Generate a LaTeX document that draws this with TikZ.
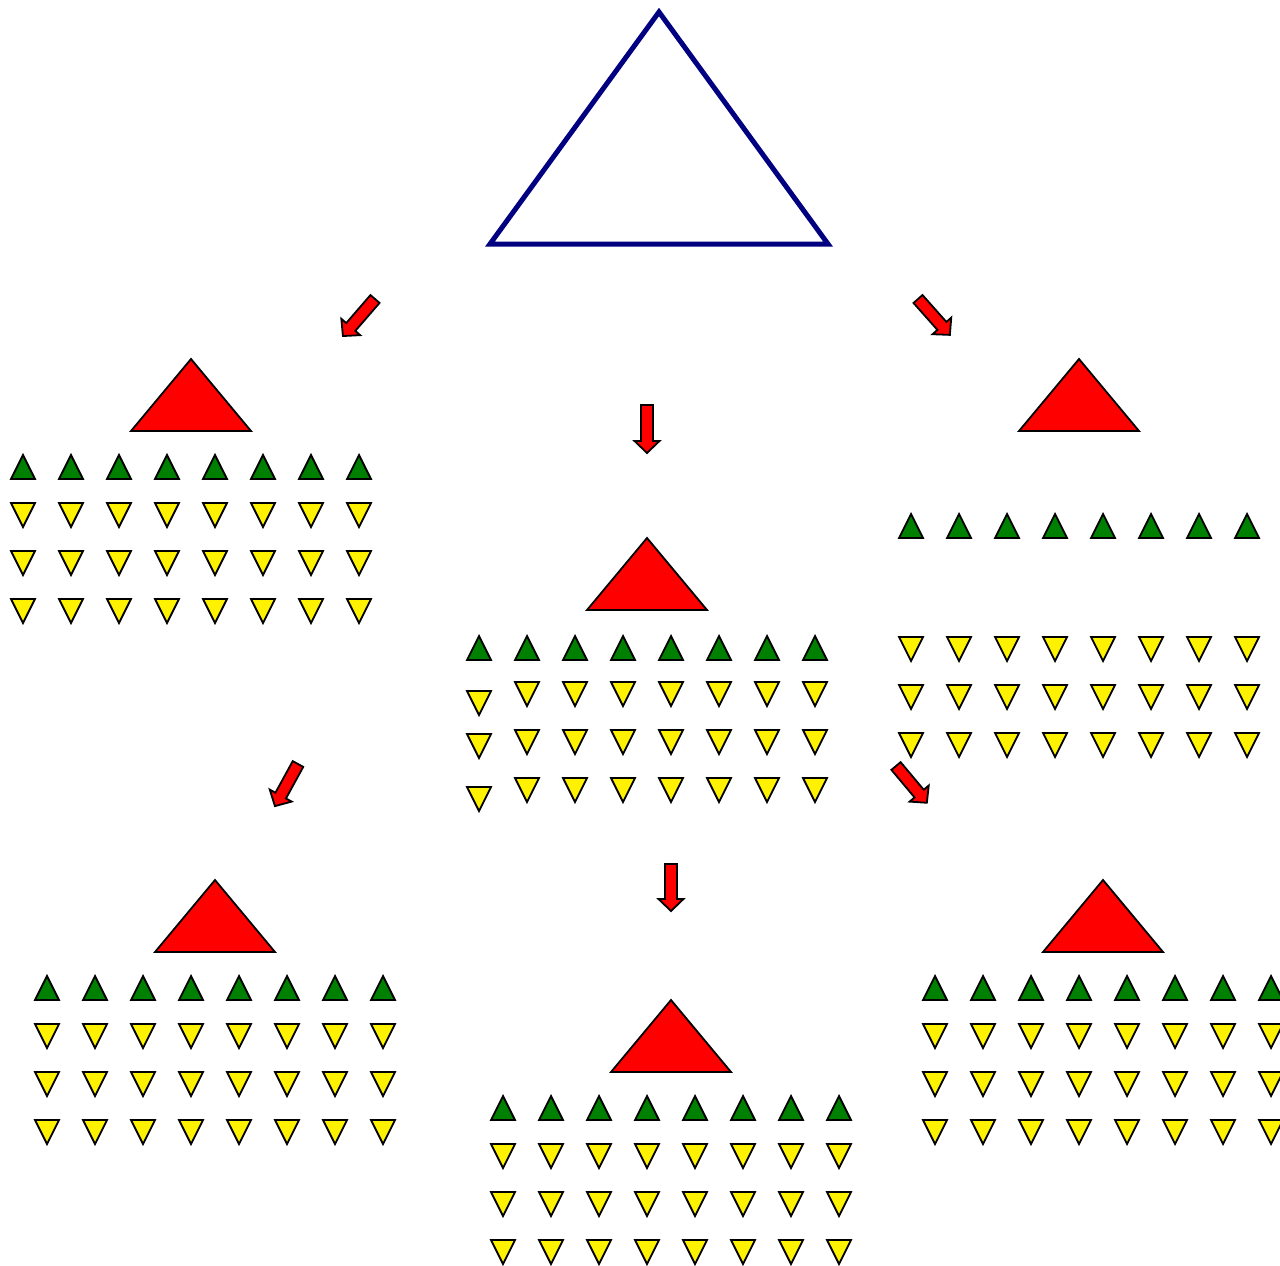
\documentclass[tikz,border=0pt]{standalone}
\usepackage{tikz}

\definecolor{navy}{RGB}{0,0,128}
\definecolor{darkgreen}{RGB}{0,128,0}

\tikzset{
    outline/.style={draw=black, line width=1.8pt},
    greentri/.style={outline, fill=darkgreen},
    yellowtri/.style={outline, fill=yellow},
    redtri/.style={outline, fill=red},
    redarrow/.style={outline, fill=red},
    bigtri/.style={draw=navy, line width=5pt}
}

% marks: centre x, top y
\newcommand{\upmark}[2]{\draw[greentri] (#1,#2) -- ++(12,24) -- ++(-24,0) -- cycle;}
\newcommand{\downmark}[2]{\draw[yellowtri] ({#1-12},#2) -- ++(24,0) -- ++(-12,24) -- cycle;}
\newcommand{\redmark}[2]{\draw[redtri] (#1,#2) -- ++(60,72) -- ++(-120,0) -- cycle;}

% apex x, apex y, green offset, yellow offset
\newcommand{\cluster}[4]{%
    \redmark{#1}{#2}
    \foreach \i in {0,...,7} {
        \upmark{#1-168+48*\i}{#2+#3}
        \foreach \j in {0,1,2} {\downmark{#1-168+48*\i}{#2+#4+48*\j}}
    }
}

% tail, angle, length
\newcommand{\blockarrow}[3]{%
    \draw[redarrow, shift={#1}, rotate=#2] (0,-6) -- (#3-12,-6) -- (#3-12,-12.5)
        -- (#3,0) -- (#3-12,12.5) -- (#3-12,6) -- (0,6) -- cycle;}

\begin{document}
\begin{tikzpicture}[x=1pt, y=-1pt]
    \useasboundingbox (0,0) rectangle (1280,1266);

    % Top triangle
    \draw[bigtri] (659,12) -- (828,244) -- (490,244) -- cycle;

    % Arrows
    \blockarrow{(375,299)}{-130.9}{49}
    \blockarrow{(647,405)}{-90}{48}
    \blockarrow{(918,299)}{-48.4}{48}
    \blockarrow{(298,764)}{-118.7}{48}
    \blockarrow{(671,864)}{-90}{47}
    \blockarrow{(896,766)}{-50}{48}

    % Upper row
    \cluster{191}{359}{96}{144}
    \cluster{1079}{359}{155}{278}

    % Middle
    \redmark{647}{538}
    \foreach \i in {0,...,7} {\upmark{479+48*\i}{636}}
    \foreach \i in {1,...,7} {
        \foreach \j in {0,1,2} {\downmark{479+48*\i}{682+48*\j}}
    }
    \downmark{479}{691}
    \downmark{479}{734}
    \downmark{479}{787}

    % Lower row
    \cluster{215}{880}{96}{144}
    \cluster{671}{1000}{96}{144}
    \cluster{1103}{880}{96}{144}
\end{tikzpicture}
\end{document}
